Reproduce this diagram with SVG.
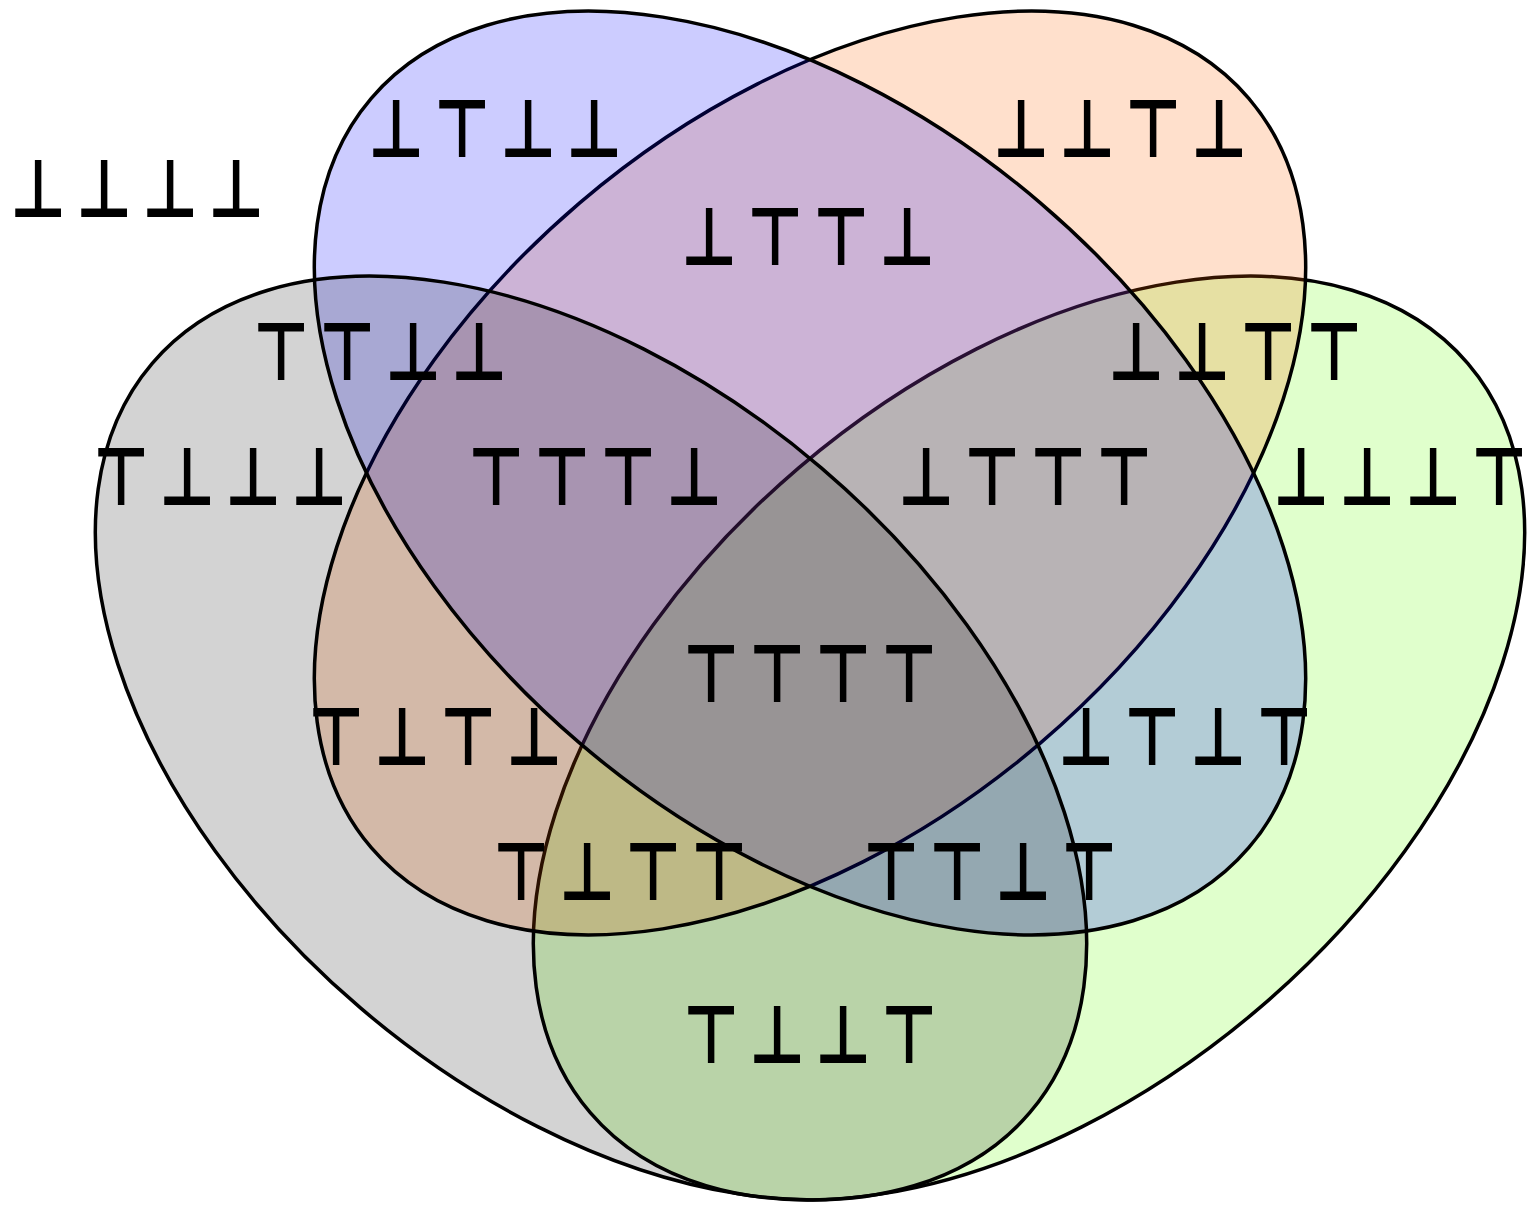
<svg xmlns="http://www.w3.org/2000/svg" width="1528" height="1206" viewBox="0 0 1528 1206">
<style>
.set{stroke:#000;stroke-width:3.5}
.lbl{font-family:"DejaVu Sans",sans-serif;font-weight:bold;font-size:81px;letter-spacing:12.8px;text-anchor:middle;fill:#000}
</style>
<rect width="1528" height="1206" fill="#fff"/>
<g id="set-d"><ellipse class="set" cx="1029" cy="738" rx="577" ry="355" transform="rotate(-40.5 1029 738)" fill="#66ff00" fill-opacity="0.2"/></g>
<g id="set-c"><ellipse class="set" cx="810" cy="473" rx="577" ry="355" transform="rotate(-40.5 810 473)" fill="#ff6600" fill-opacity="0.2"/></g>
<g id="set-b"><ellipse class="set" cx="810" cy="473" rx="577" ry="355" transform="rotate(40.5 810 473)" fill="#0000ff" fill-opacity="0.2"/></g>
<g id="set-a"><ellipse class="set" cx="591" cy="738" rx="577" ry="355" transform="rotate(40.5 591 738)" fill="#000000" fill-opacity="0.173"/></g>
<g id="labels" class="lbl">
<text transform="translate(142 217) scale(0.76 1)">⊥⊥⊥⊥</text>
<text transform="translate(500 157) scale(0.76 1)">⊥⊤⊥⊥</text>
<text transform="translate(1125 157) scale(0.76 1)">⊥⊥⊤⊥</text>
<text transform="translate(813 265) scale(0.76 1)">⊥⊤⊤⊥</text>
<text transform="translate(385 380) scale(0.76 1)">⊤⊤⊥⊥</text>
<text transform="translate(1240 380) scale(0.76 1)">⊥⊥⊤⊤</text>
<text transform="translate(225 505) scale(0.76 1)">⊤⊥⊥⊥</text>
<text transform="translate(600 505) scale(0.76 1)">⊤⊤⊤⊥</text>
<text transform="translate(1030 505) scale(0.76 1)">⊥⊤⊤⊤</text>
<text transform="translate(1405 505) scale(0.76 1)">⊥⊥⊥⊤</text>
<text transform="translate(815 702) scale(0.76 1)">⊤⊤⊤⊤</text>
<text transform="translate(440 765) scale(0.76 1)">⊤⊥⊤⊥</text>
<text transform="translate(1190 765) scale(0.76 1)">⊥⊤⊥⊤</text>
<text transform="translate(625 900) scale(0.76 1)">⊤⊥⊤⊤</text>
<text transform="translate(995 900) scale(0.76 1)">⊤⊤⊥⊤</text>
<text transform="translate(815 1063) scale(0.76 1)">⊤⊥⊥⊤</text>
</g>
</svg>
